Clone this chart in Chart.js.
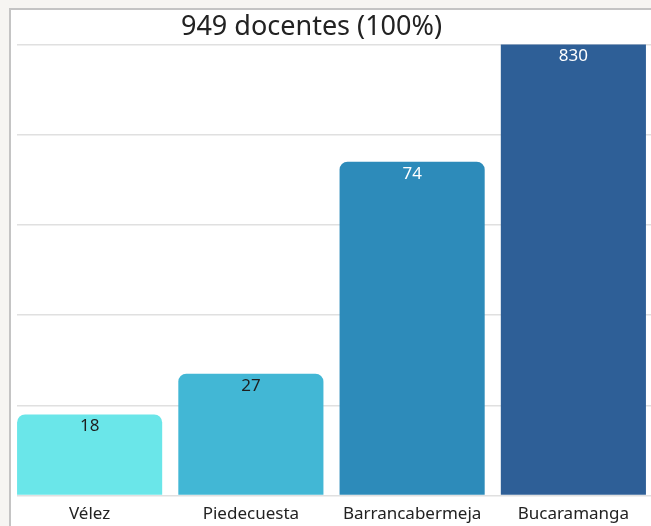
<!DOCTYPE html>
<html lang="es">
<head>
  <meta charset="UTF-8"/>
  <title>Docentes por municipio</title>
  <script src="https://cdn.jsdelivr.net/npm/chart.js"></script>
  <style>
    html, body { margin:0; padding:0; overflow:hidden; }
    body { width:651px; height:526px; background:#f6f5f2; position:relative; font-family:'Noto Sans', sans-serif; }
    .frame { position:absolute; left:9px; top:8px; width:640px; height:516px; background:#fff;
             border-left:2px solid #c4c4c4; border-top:2px solid #c4c4c4; }
    .clip { position:absolute; left:17px; top:10px; width:634px; height:516px; overflow:hidden; }
    .clip canvas { position:absolute; left:-48px; top:0; }
  </style>
</head>
<body>
  <div class="frame"></div>
  <div class="clip">
    <canvas id="chart" width="685" height="522"></canvas>
  </div>
  <script>
    // data
    const titleText = "949 docentes (100%)";
    const municipios = ["Vélez", "Piedecuesta", "Barrancabermeja", "Bucaramanga"];
    const docentes = [18, 27, 74, 830];
    const yMax = 100;
    const yStep = 20;

    const barColors = ["#6ae6e9", "#42b7d5", "#2d8bba", "#2e5f97"];
    const labelColors = ["#1e1e1e", "#1e1e1e", "#ffffff", "#ffffff"];

    // value labels just under the top of each bar (clipped bars use the chart top)
    const valueLabels = {
      id: "valueLabels",
      afterDatasetsDraw(chart) {
        const ctx = chart.ctx;
        const top = chart.chartArea.top;
        const meta = chart.getDatasetMeta(0);
        ctx.save();
        ctx.font = "17px 'Noto Sans'";
        ctx.textAlign = "center";
        ctx.textBaseline = "middle";
        meta.data.forEach((bar, i) => {
          ctx.fillStyle = labelColors[i];
          ctx.fillText(String(docentes[i]), bar.x, Math.max(bar.y, top) + 12);
        });
        ctx.restore();
      }
    };

    new Chart(document.getElementById("chart").getContext("2d"), {
      type: "bar",
      data: {
        labels: municipios,
        datasets: [{
          data: docentes,
          backgroundColor: barColors,
          borderRadius: { topLeft: 8, topRight: 8 },
          borderSkipped: "bottom",
          categoryPercentage: 0.9,
          barPercentage: 1.0
        }]
      },
      options: {
        responsive: false,
        animation: false,
        devicePixelRatio: 1,
        layout: { padding: 0 },
        plugins: {
          legend: { display: false },
          tooltip: { enabled: false },
          title: {
            display: true,
            text: titleText,
            color: "#222",
            font: { family: "'Noto Sans'", size: 27, weight: "normal", lineHeight: 1.2 },
            padding: { top: 1, bottom: 1 }
          }
        },
        scales: {
          x: {
            grid: { display: false, drawTicks: false },
            border: { display: false },
            ticks: {
              color: "#222", padding: 8, maxRotation: 0, minRotation: 0, autoSkip: false,
              font: { family: "'Noto Sans'", size: 17 }
            }
          },
          y: {
            min: 0,
            max: yMax,
            ticks: { display: false, stepSize: yStep },
            grid: { color: "#e0e0e0", lineWidth: 1.5, drawTicks: false },
            border: { display: false },
            afterFit(scale) { scale.width = 40; }
          }
        }
      },
      plugins: [valueLabels]
    });
  </script>
</body>
</html>
